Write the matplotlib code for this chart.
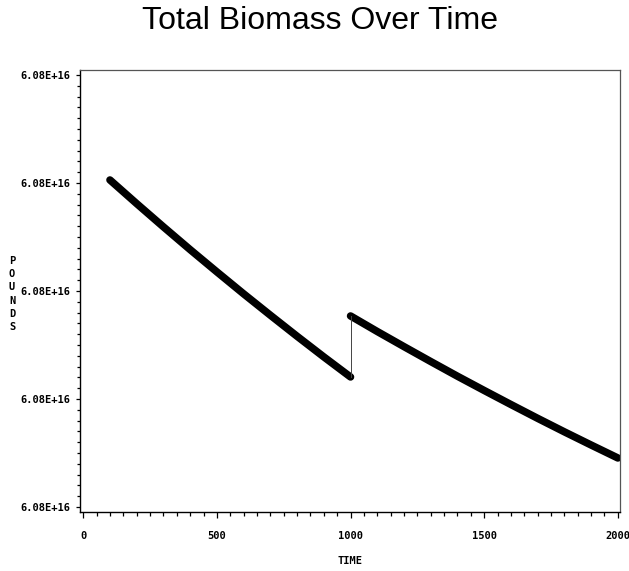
import matplotlib
matplotlib.use("Agg")
import matplotlib.pyplot as plt
from matplotlib.ticker import FuncFormatter, AutoMinorLocator, FixedLocator

# ---- data ----
time_before = [100, 200, 300, 400, 500, 600, 700, 800, 900, 1000]
pounds_before = [6.0803028e16, 6.0802809e16, 6.0802594e16, 6.0802383e16, 6.0802177e16,
                 6.0801974e16, 6.0801776e16, 6.0801581e16, 6.0801390e16, 6.0801204e16]
time_after = [1000, 1100, 1200, 1300, 1400, 1500, 1600, 1700, 1800, 1900, 2000]
pounds_after = [6.0801769e16, 6.0801625e16, 6.0801485e16, 6.0801347e16, 6.0801211e16,
                6.0801079e16, 6.0800949e16, 6.0800821e16, 6.0800696e16, 6.0800574e16,
                6.0800454e16]
x_ticks = [0, 500, 1000, 1500, 2000]
y_ticks = [6.0800e16, 6.0801e16, 6.0802e16, 6.0803e16, 6.0804e16]

title = "Total Biomass Over Time"
x_label = "TIME"
y_label = "POUNDS"

W, H = 629, 571
fig = plt.figure(figsize=(W / 100, H / 100), dpi=100)
ax = fig.add_axes([80 / W, 1 - 512 / H, 540 / W, 442 / H])

ax.plot(time_before, pounds_before, color="black", lw=5.4, solid_capstyle="round")
ax.plot(time_after, pounds_after, color="black", lw=5.4, solid_capstyle="round")
ax.plot([time_before[-1], time_after[0]], [pounds_before[-1], pounds_after[0]],
        color="#444444", lw=0.7)

step = y_ticks[1] - y_ticks[0]
ax.set_xlim(-12, 2008)
ax.set_ylim(y_ticks[0] - 0.046 * step, y_ticks[-1] + 0.046 * step)

ax.xaxis.set_major_locator(FixedLocator(x_ticks))
ax.xaxis.set_minor_locator(AutoMinorLocator(10))
ax.yaxis.set_major_locator(FixedLocator(y_ticks))
ax.yaxis.set_minor_locator(AutoMinorLocator(10))
ax.yaxis.set_major_formatter(FuncFormatter(lambda v, p: f"{v:.2E}"))
ax.xaxis.set_major_formatter(FuncFormatter(lambda v, p: f"{v:.0f}"))

for lab in ax.get_xticklabels() + ax.get_yticklabels():
    lab.set_fontfamily("DejaVu Sans Mono")
    lab.set_fontweight("bold")
    lab.set_fontsize(7.5)

ax.tick_params(axis="x", which="major", direction="out", length=4.5, width=0.9, pad=9)
ax.tick_params(axis="x", which="minor", direction="out", length=3.0, width=0.9)
ax.tick_params(axis="y", which="major", direction="out", length=3.0, width=0.9, pad=4)
ax.tick_params(axis="y", which="minor", direction="out", length=2.0, width=0.9)

for side in ["left", "bottom"]:
    ax.spines[side].set_color("black")
    ax.spines[side].set_linewidth(1.0)
for side in ["top", "right"]:
    ax.spines[side].set_color("#555555")
    ax.spines[side].set_linewidth(0.9)

fig.text(320 / W, 1 - 21 / H, title, ha="center", va="center",
         fontsize=23, family="Liberation Sans")
fig.text(350 / W, 1 - 561 / H, x_label, ha="center", va="center",
         family="DejaVu Sans Mono", weight="bold", fontsize=7.5)
fig.text(12 / W, 1 - 294 / H, "\n".join(y_label), ha="center", va="center",
         family="DejaVu Sans Mono", weight="bold", fontsize=7.5, linespacing=1.42)

fig.savefig("out.png", dpi=100)
